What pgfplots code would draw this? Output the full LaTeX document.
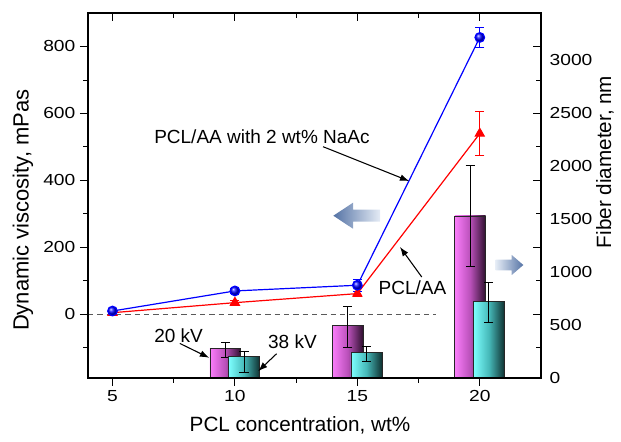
\documentclass[border=0pt]{standalone}
\usepackage{fontspec}
\setmainfont{Liberation Sans}
\newfontfamily\tickfamily{Liberation Sans}[FakeStretch=1.2]
\usepackage{pgfplots}
\pgfplotsset{compat=1.18}
\usetikzlibrary{arrows.meta}
\newcommand\tickfont{\tickfamily\fontsize{12}{14}\selectfont}
\newcommand\labfont{\fontsize{15.5}{18}\selectfont}
\newcommand\ylabfont{\fontsize{16.5}{19}\selectfont}
\newcommand\annfont{\fontsize{14.25}{16}\selectfont}
\definecolor{pinkL}{RGB}{250,125,250}
\definecolor{pinkM}{RGB}{185,80,185}
\definecolor{pinkR}{RGB}{45,15,45}
\definecolor{cyanL}{RGB}{125,255,255}
\definecolor{cyanM}{RGB}{70,185,185}
\definecolor{cyanR}{RGB}{15,50,50}
\definecolor{arrDark}{RGB}{85,115,165}
\definecolor{arrLight}{RGB}{228,235,245}
\pgfplotsset{
  common/.style={at={(0,0)}, anchor=south west, scale only axis,
    width=339.75pt, height=273.75pt, xmin=4, xmax=22.5, clip=false,
    /pgf/number format/assume math mode=true,
    /pgf/number format/1000 sep={},
    tick label style={font=\tickfont},
    axis line style={line width=0.8pt},
    tick style={black, line width=0.7pt},
    major tick length=6pt, minor tick length=3.5pt},
  barerr/.style={error bars/.cd, y dir=both, y explicit,
    error bar style={black, line width=0.6pt},
    error mark options={rotate=90, mark size=3.4pt, black, line width=0.6pt}},
  kvA/.style={ybar, bar width=1.26, draw=black!85, line width=0.5pt,
    left color=pinkL, right color=pinkR, middle color=pinkM, barerr},
  kvB/.style={ybar, bar width=1.26, draw=black!85, line width=0.5pt,
    left color=cyanL, right color=cyanR, middle color=cyanM, barerr}
}
\begin{document}
\begin{tikzpicture}
\path[use as bounding box] (-66pt,-48pt) rectangle (399.75pt,283.5pt);

% right axis: fibre diameter bars (20 kV and 38 kV)
\begin{axis}[common, ymin=0, ymax=3440, axis x line=none, axis y line*=right,
  ytick={0,500,...,3000}, major tick length=0pt, minor tick length=0pt,
  yticklabel style={xshift=3pt}]
\addplot[kvA] coordinates {(9.61,277) += (0,60) -= (0,82)};
\addplot[kvB] coordinates {(10.37,201) += (0,54) -= (0,151)};
\addplot[kvA] coordinates {(14.61,493) += (0,180) -= (0,205)};
\addplot[kvB] coordinates {(15.37,239) += (0,57) -= (0,79)};
\addplot[kvA] coordinates {(19.61,1528) += (0,475) -= (0,478)};
\addplot[kvB] coordinates {(20.37,723) += (0,180) -= (0,198)};
\node[rotate=90, font=\labfont] at (axis description cs:1.1413,0.592) {Fiber diameter, nm};
\end{axis}

% left axis: viscosity
\begin{axis}[common, ymin=-190, ymax=900,
  xtick={5,10,15,20}, minor xtick={7.5,12.5,17.5},
  ytick={0,200,...,800}, minor ytick={-100,100,300,500,700},
  xtick pos=left, ytick pos=left, tick align=outside]
\addplot[gray!70!black, line width=0.7pt, dash pattern=on 4pt off 3pt]
  coordinates {(4,0) (18.2,0)};
\addplot[red, line width=0.9pt, mark=triangle*, mark size=3.8pt,
  mark options={fill=red, draw=red},
  error bars/.cd, y dir=both, y explicit,
  error bar style={red, line width=0.6pt},
  error mark options={rotate=90, mark size=3.4pt, red, line width=0.6pt}]
  coordinates {(5,5) +- (0,3) (10,35) +- (0,6) (15,62) +- (0,8) (20,540) +- (0,65)};
\addplot[blue, line width=0.9pt, mark=ball, mark size=3.6pt,
  mark options={ball color=blue},
  error bars/.cd, y dir=both, y explicit,
  error bar style={blue, line width=0.6pt},
  error mark options={rotate=90, mark size=3.4pt, blue, line width=0.6pt}]
  coordinates {(5,10) +- (0,6) (10,70) +- (0,8) (15,87) +- (0,18) (20,827) +- (0,31)};

\node[font=\annfont] at (axis cs:11.105,530.6) {PCL/AA with 2 wt\% NaAc};
\draw[line width=0.8pt, -{Latex[length=7pt,width=5pt]}] (axis cs:13.6,500.7) -- (axis cs:17.12,398);
\node[font=\annfont] at (axis cs:17.25,80.8) {PCL/AA};
\draw[line width=0.8pt, -{Latex[length=7pt,width=5pt]}] (axis cs:17.63,111.6) -- (axis cs:16.74,201.4);
\node[font=\annfont] at (axis cs:7.7,-62.9) {20 kV};
\draw[line width=0.8pt, -{Latex[length=7pt,width=5pt]}] (axis cs:7.75,-86.8) -- (axis cs:8.95,-129.6);
\node[font=\annfont] at (axis cs:12.35,-82.9) {38 kV};
\draw[line width=0.8pt, -{Latex[length=7pt,width=5pt]}] (axis cs:11.7,-117.6) -- (axis cs:10.95,-169.7);

\node[rotate=90, font=\ylabfont] at (axis description cs:-0.1435,0.46) {Dynamic viscosity, mPas};
\node[font=\labfont] at (axis description cs:0.468,-0.129) {PCL concentration, wt\%};
\end{axis}

% mirrored ticks on top and right, pointing the same way as the outer ones
\begin{axis}[common, ymin=-190, ymax=900,
  xtick={5,10,15,20}, minor xtick={7.5,12.5,17.5},
  ytick={0,200,...,800}, minor ytick={-100,100,300,500,700},
  xticklabels={}, yticklabels={},
  xtick pos=right, ytick pos=right, tick align=inside]
\end{axis}

% block arrows
\shade[left color=arrDark, right color=arrLight]
  (184pt,121.7pt) -- (198.75pt,131.45pt) -- (198.75pt,126.2pt) -- (219pt,126.2pt)
  -- (219pt,117.2pt) -- (198.75pt,117.2pt) -- (198.75pt,111.95pt) -- cycle;
\shade[left color=arrLight, right color=arrDark]
  (326.5pt,84.75pt) -- (317.8pt,92.25pt) -- (317.8pt,88.75pt) -- (305.8pt,88.75pt)
  -- (305.8pt,80.75pt) -- (317.8pt,80.75pt) -- (317.8pt,77.25pt) -- cycle;
\end{tikzpicture}
\end{document}
